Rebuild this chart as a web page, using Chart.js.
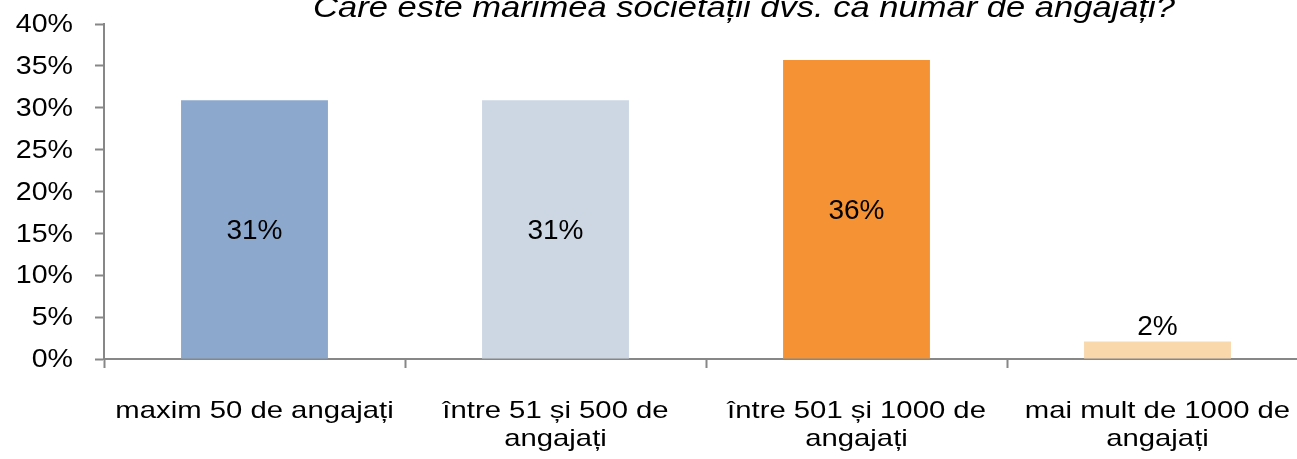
<!DOCTYPE html>
<html>
<head>
<meta charset="utf-8">
<script src="https://cdn.jsdelivr.net/npm/chart.js@4"></script>
<style>
html,body{margin:0;padding:0;background:#fff;overflow:hidden;}
#wrap{width:1320px;height:459px;position:relative;}
</style>
</head>
<body>
<div id="wrap"><canvas id="c"></canvas></div>
<script>
const titleText = 'Care este mărimea societății dvs. ca număr de angajați?';
const categories = [
  ['maxim 50 de angajați'],
  ['între 51 și 500 de', 'angajați'],
  ['între 501 și 1000 de', 'angajați'],
  ['mai mult de 1000 de', 'angajați']
];
const values = [30.9, 30.9, 35.7, 2.1];
const valueLabels = ['31%', '31%', '36%', '2%'];
const barColors = ['#8CA8CD', '#CDD7E4', '#F59334', '#F9D8AC'];
const yTicks = [0, 5, 10, 15, 20, 25, 30, 35, 40];

const FONT = '"Liberation Sans", Arial, sans-serif';
const AXIS = '#878787';

// draw real text, horizontally stretched by sx
function drawText(ctx, text, x, y, font, sx, align, baseline) {
  ctx.save();
  ctx.font = font;
  ctx.fillStyle = '#000';
  ctx.textAlign = align;
  ctx.textBaseline = baseline;
  ctx.translate(x, y);
  ctx.scale(sx, 1);
  ctx.fillText(text, 0, 0);
  ctx.restore();
}

const textPlugin = {
  id: 'textDraw',
  afterDraw(chart) {
    const ctx = chart.ctx;
    // title
    ctx.save();
    ctx.font = 'italic 29px ' + FONT;
    const w = ctx.measureText(titleText).width;
    ctx.restore();
    drawText(ctx, titleText, 313, 17, 'italic 29px ' + FONT, 862 / w, 'left', 'alphabetic');

    // y tick labels
    const ys = chart.scales.y;
    ys.ticks.forEach(t => {
      drawText(ctx, t.value + '%', ys.right - 31, ys.getPixelForValue(t.value) + 1,
        '26px ' + FONT, 1.1, 'right', 'middle');
    });

    // x tick labels
    const xs = chart.scales.x;
    categories.forEach((lines, i) => {
      const cx = xs.getPixelForTick(i);
      lines.forEach((ln, j) => {
        drawText(ctx, ln, cx, xs.top + 59 + j * 28, '24px ' + FONT, 1.22, 'center', 'alphabetic');
      });
    });

    // value labels
    const meta = chart.getDatasetMeta(0);
    meta.data.forEach((bar, i) => {
      const v = values[i];
      const top = ys.getPixelForValue(v);
      const base = ys.getPixelForValue(0);
      if (v < 5) {
        drawText(ctx, valueLabels[i], bar.x, top - 6, '28px ' + FONT, 1.0, 'center', 'alphabetic');
      } else {
        drawText(ctx, valueLabels[i], bar.x, (top + base) / 2 + 2, '28px ' + FONT, 1.0, 'center', 'middle');
      }
    });
  }
};

new Chart(document.getElementById('c'), {
  type: 'bar',
  data: {
    labels: categories,
    datasets: [{
      data: values,
      backgroundColor: barColors,
      borderWidth: 0,
      categoryPercentage: 1,
      barPercentage: 0.488
    }]
  },
  options: {
    responsive: true,
    maintainAspectRatio: false,
    animation: false,
    events: [],
    layout: { padding: { top: 24, right: 12, left: 0, bottom: 0 } },
    plugins: {
      legend: { display: false },
      tooltip: { enabled: false },
      title: { display: false }
    },
    scales: {
      x: {
        offset: true,
        grid: {
          display: true,
          drawOnChartArea: false,
          drawTicks: true,
          tickLength: 9,
          tickWidth: 2,
          color: AXIS,
          offset: true
        },
        border: { display: true, color: AXIS, width: 2 },
        ticks: { display: false, autoSkip: false },
        afterFit(scale) { scale.height = 100; }
      },
      y: {
        min: 0,
        max: 40,
        afterBuildTicks(scale) { scale.ticks = yTicks.map(v => ({ value: v })); },
        grid: {
          display: true,
          drawOnChartArea: false,
          drawTicks: true,
          tickLength: 9,
          tickWidth: 2,
          color: AXIS
        },
        border: { display: true, color: AXIS, width: 2 },
        ticks: { display: false },
        afterFit(scale) { scale.width = 104; }
      }
    }
  },
  plugins: [textPlugin]
});
</script>
</body>
</html>
